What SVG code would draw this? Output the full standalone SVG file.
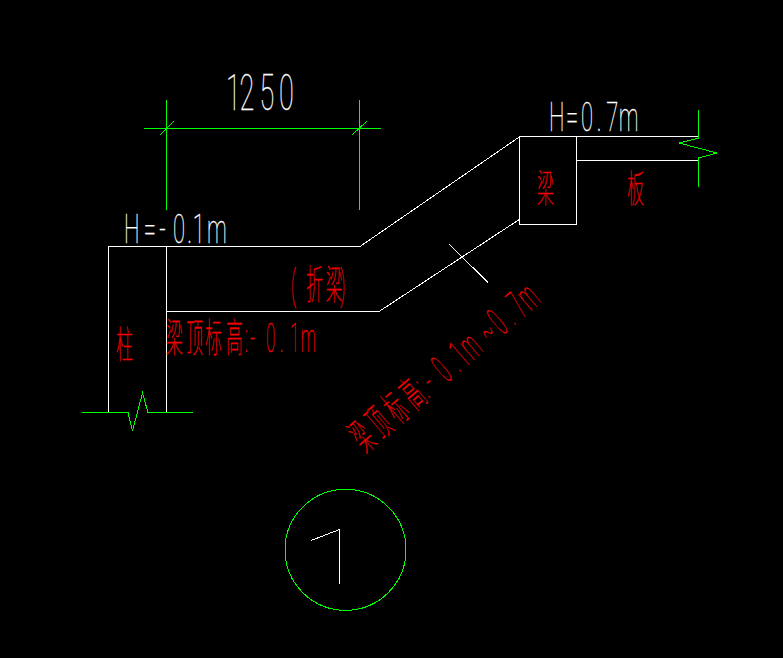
<svg xmlns="http://www.w3.org/2000/svg" width="783" height="658" viewBox="0 0 783 658">
<style>
.w{fill:none;stroke:#fff;stroke-width:1;shape-rendering:crispEdges}
.g{fill:none;stroke:#0f0;stroke-width:1;shape-rendering:crispEdges}
text{font-family:"Roboto","Noto Sans CJK SC",sans-serif;font-weight:100;opacity:.99}
.tw{fill:#fff;stroke:#fff;stroke-width:.3;vector-effect:non-scaling-stroke}
.tr{fill:#f00;stroke:#f00;stroke-width:.3;vector-effect:non-scaling-stroke}
</style>
<rect width="783" height="658" fill="#000"/>
<g id="connectors">
<path class="g" d="M166.500 100V210M359.500 100V210M144 128.500H381M160 135L174 121M352 135L367 121"/>
<path class="g" d="M82 412.500H128L132.500 431L142.500 393L148 412.500H193"/>
<path class="g" d="M698.500 110V138L679 143L717 153L698.500 158V187"/>
<path class="w" d="M449.500 244.500L488 282.500"/>
</g>
<g id="beam">
<path class="w" d="M166.500 246.500H360L520 136.500H698M166.500 311.500H379L520 219M576.500 160.500H698"/>
</g>
<g id="column">
<path class="w" d="M108.500 412V246.500H166.500V412"/>
<text class="tr" transform="translate(116 358) scale(.45 1)" font-size="38">柱</text>
</g>
<g id="end-beam">
<rect class="w" x="519.500" y="136.500" width="57" height="88"/>
<text class="tr" transform="translate(537 202) scale(.45 1)" font-size="38">梁</text>
</g>
<g id="slab">
<text class="tr" transform="translate(627 202) scale(.45 1)" font-size="38">板</text>
</g>
<g id="labels">
<text class="tw" transform="translate(226 110) scale(.54 1)" font-size="50" x="0 25 62 98">1250</text>
<text class="tw" transform="translate(124 243) scale(.55 1)" font-size="40" x="0 36 64 89 115 125 151">H=-0.1m</text>
<text class="tw" transform="translate(549 131) scale(.55 1)" font-size="40" x="0 31 58 87 104 127">H=0.7m</text>
<text class="tr" transform="translate(291 299) scale(.42 1)" font-size="40" x="0 36 83 117">(折梁)</text>
<text class="tr" transform="translate(166 352) scale(.42 1)" font-size="40" x="0 48 93 143 188 200 238 271 295 321">梁顶标高:-0.1m</text>
<text class="tr" transform="translate(365 453) rotate(-40.500) scale(.42 1)" font-size="40" x="0 52 105 157 200 219 257 295 312 338 395 431 467 493 519">梁顶标高:-0.1m~0.7m</text>
</g>
<g id="marker">
<circle class="g" cx="345.500" cy="549.800" r="60.500"/>
<path class="w" d="M311 540.500L339.500 529.500V584"/>
</g>
</svg>
